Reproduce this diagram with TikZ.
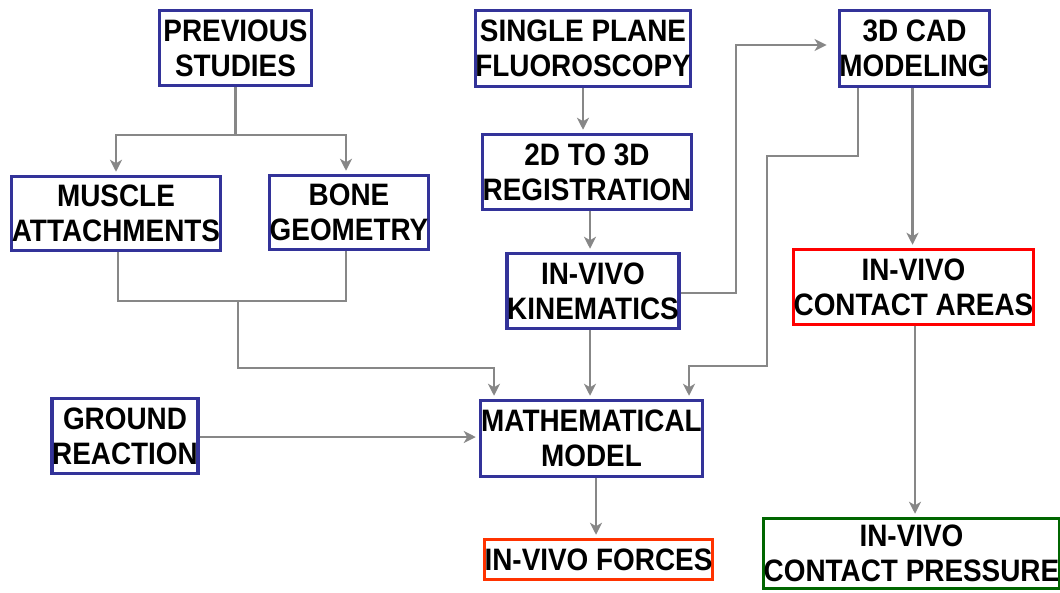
\documentclass[tikz,border=0pt]{standalone}
\usepackage{fontspec}
\setmainfont{Liberation Sans}[FakeStretch=0.9]
\usetikzlibrary{arrows.meta}
\definecolor{boxblue}{RGB}{51,51,153}
\definecolor{boxred}{RGB}{255,0,0}
\definecolor{boxorange}{RGB}{255,51,0}
\definecolor{boxgreen}{RGB}{0,102,0}
\definecolor{linegray}{RGB}{135,135,135}
\begin{document}
\begin{tikzpicture}[x=1pt,y=-1pt,
  box/.style={draw=boxblue, line width=3.5pt, fill=white, inner sep=0pt, align=center,
    font=\fontsize{31}{35}\selectfont\bfseries},
  conn/.style={draw=linegray, line width=2.8pt},
  arr/.style={conn, -{Stealth[length=12pt,width=12pt,inset=3.5pt]}, shorten >=3pt}
]
\useasboundingbox (0,0) rectangle (1060,592);
% nodes
\node[box, minimum width=152pt, minimum height=75pt] (prev) at (235.5,48) {PREVIOUS\\STUDIES};
\node[box, minimum width=215pt, minimum height=76pt] (single) at (583,48.5) {SINGLE PLANE\\FLUOROSCOPY};
\node[box, minimum width=150pt, minimum height=76pt] (cad) at (914.5,48.5) {3D CAD\\MODELING};
\node[box, minimum width=209pt, minimum height=74pt] (muscle) at (116,213.5) {MUSCLE\\ATTACHMENTS};
\node[box, minimum width=159pt, minimum height=74pt] (bone) at (349,212.5) {BONE\\GEOMETRY};
\node[box, minimum width=207pt, minimum height=75pt] (reg) at (587,172) {2D TO 3D\\REGISTRATION};
\node[box, minimum width=171pt, minimum height=75pt] (kin) at (593,291) {IN-VIVO\\KINEMATICS};
\node[box, draw=boxred, minimum width=238pt, minimum height=75pt] (area) at (913.5,287) {IN-VIVO\\CONTACT AREAS};
\node[box, minimum width=145pt, minimum height=75pt] (ground) at (125,436) {GROUND\\REACTION};
\node[box, minimum width=222pt, minimum height=76pt] (math) at (591.5,438.5) {MATHEMATICAL\\MODEL};
\node[box, draw=boxorange, minimum width=224pt, minimum height=40pt] (forces) at (598.5,559.5) {IN-VIVO FORCES};
\node[box, draw=boxgreen, minimum width=290pt, minimum height=70pt] (press) at (911.5,553.5) {IN-VIVO\\CONTACT PRESSURE};
% junction coordinates
\coordinate (j1) at (235.5,135);
\coordinate (j2) at (238,301);
\coordinate (j3) at (238,368);
\coordinate (k1) at (736,293);
\coordinate (c2) at (767,156);
\coordinate (c3) at (767,366);
% connectors
\draw[conn] (prev.south) -- (j1);
\draw[arr] (j1) -| (muscle.north);
\draw[arr] (j1) -| ([xshift=-3pt]bone.north);
\draw[conn] ([xshift=2pt]muscle.south) |- (j2) -| ([xshift=-3pt]bone.south);
\draw[arr] (j2) -- (j3) -| ([xshift=-97.5pt]math.north);
\draw[arr] (ground.east |- 0,437) -- (math.west |- 0,437);
\draw[arr] (single.south) -- (single.south |- reg.north);
\draw[arr] ([xshift=3pt]reg.south) -- ([xshift=3pt]reg.south |- kin.north);
\draw[arr] ([xshift=-3pt]kin.south) -- ([xshift=-3pt]kin.south |- math.north);
\draw[arr, shorten >=11pt] (kin.east |- k1) -- (k1) |- ([yshift=3.5pt]cad.west);
\draw[arr] ([xshift=-56.5pt]cad.south) |- (c2) -- (c3) -| ([xshift=97.5pt]math.north);
\draw[arr] ([xshift=-2pt]cad.south) -- ([xshift=-2pt]cad.south |- area.north);
\draw[arr] ([xshift=1.5pt]area.south) -- ([xshift=1.5pt]area.south |- press.north);
\draw[arr] ([xshift=4.5pt]math.south) -- ([xshift=4.5pt]math.south |- forces.north);
\end{tikzpicture}
\end{document}
